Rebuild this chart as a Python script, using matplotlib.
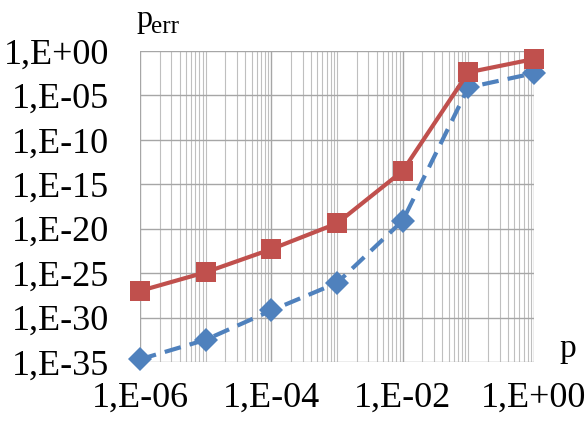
import numpy as np
import matplotlib.pyplot as plt
from matplotlib.ticker import LogLocator, FixedLocator, FuncFormatter

# data (exponents of 10)
p = [1e-6, 1e-5, 1e-4, 1e-3, 1e-2, 1e-1, 1e0]
red_exp = [-27.0, -24.9, -22.3, -19.4, -13.5, -2.4, -0.9]
blue_exp = [-34.7, -32.5, -29.2, -26.1, -19.1, -4.1, -2.5]
x_ticks = [1e-6, 1e-4, 1e-2, 1e0]
y_ticks = [1e-35, 1e-30, 1e-25, 1e-20, 1e-15, 1e-10, 1e-5, 1e0]

red = [10.0 ** e for e in red_exp]
blue = [10.0 ** e for e in blue_exp]

plt.rcParams['font.family'] = ['Liberation Serif', 'DejaVu Serif']

W, H = 588, 425
fig = plt.figure(figsize=(W / 100, H / 100), dpi=100)
ax = fig.add_axes([140 / W, 1 - 362 / H, (534 - 140) / W, (362 - 51) / H])
ax.set_xscale('log')
ax.set_yscale('log')
ax.set_xlim(1e-6, 1e0)
ax.set_ylim(1e-35, 1e0)

ax.plot(p, blue, color='#4F81BD', lw=3.0, ls=(0, (4, 2.2)), marker='D',
        ms=12, markeredgewidth=0, zorder=3, clip_on=False)
ax.plot(p, red, color='#C0504D', lw=3.0, marker='s',
        ms=14.5, markeredgewidth=0, zorder=4, clip_on=False)

ax.xaxis.set_major_locator(FixedLocator(x_ticks))
ax.xaxis.set_minor_locator(LogLocator(base=10, subs=np.arange(1, 10), numticks=20))
ax.yaxis.set_major_locator(FixedLocator(y_ticks))
ax.yaxis.set_minor_locator(FixedLocator([]))

def fmt(v, pos):
    e = int(round(np.log10(v)))
    return '1,E%s%02d' % ('+' if e >= 0 else '-', abs(e))

ax.xaxis.set_major_formatter(FuncFormatter(fmt))
ax.yaxis.set_major_formatter(FuncFormatter(fmt))
ax.xaxis.set_minor_formatter(FuncFormatter(lambda v, pos: ''))

ax.grid(True, which='major', color='#A6A6A6', lw=1.0)
ax.grid(True, which='minor', axis='x', color='#BFBFBF', lw=0.8)
for s in ax.spines.values():
    s.set_visible(False)
ax.tick_params(which='both', length=0, labelsize=26)
ax.tick_params(axis='y', pad=22)
ax.tick_params(axis='x', pad=14)

fig.text(136 / W, 1 - 27 / H, 'p', fontsize=23, va='baseline', ha='left')
fig.text(151 / W, 1 - 33 / H, 'err', fontsize=18, va='baseline', ha='left')
fig.text(559 / W, 1 - 357 / H, 'p', fontsize=24, va='baseline', ha='left')

fig.savefig('out.png', dpi=100)
